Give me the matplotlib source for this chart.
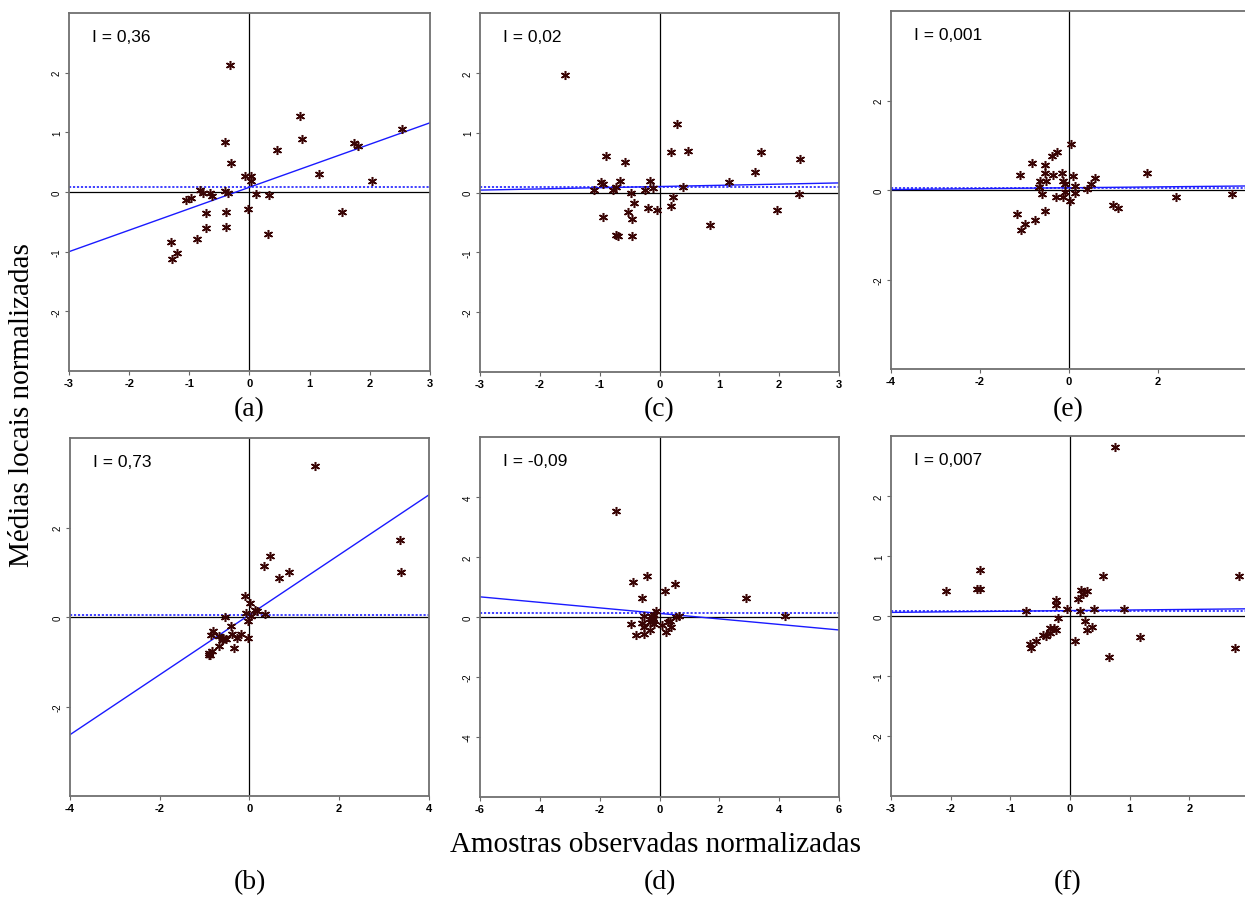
import matplotlib
matplotlib.use('Agg')
import matplotlib.pyplot as plt
import numpy as np

W, H = 1245, 904

# panel (a)
xa = [-0.32, 0.84, 0.88, 2.53, 1.73, 1.80, -0.40, 0.46, -0.31, 1.16, -0.08, 0.03, 0.03, 2.03,
      -0.82, -0.77, -0.65, -0.62, -0.40, -0.36, 0.11, 0.33, -1.06, -0.97, -0.72, -0.39, -0.03,
      1.53, -0.73, -0.39, -0.87, 0.31, -1.31, -1.20, -1.28]
ya = [2.13, 1.27, 0.88, 1.06, 0.82, 0.77, 0.84, 0.71, 0.49, 0.31, 0.26, 0.27, 0.18, 0.19,
      0.04, -0.01, -0.02, -0.06, 0.02, -0.01, -0.04, -0.05, -0.13, -0.10, -0.36, -0.33, -0.29,
      -0.34, -0.61, -0.58, -0.79, -0.71, -0.83, -1.03, -1.12]

# panel (b)
xb = [1.46, 3.35, 3.38, 0.45, 0.32, 0.87, 0.65, -0.10, 0.02, 0.13, 0.16, 0.34, -0.07, 0.03,
      -0.54, -0.04, -0.41, -0.82, -0.85, -0.39, -0.19, -0.04, -0.28, -0.59, -0.53, -0.62,
      -0.69, -0.34, -0.83, -0.90, -0.91, -0.88, -0.68, -0.60]
yb = [3.38, 1.72, 1.01, 1.37, 1.13, 1.01, 0.87, 0.46, 0.32, 0.15, 0.13, 0.07, 0.09, 0.02,
      0.00, -0.09, -0.21, -0.31, -0.40, -0.38, -0.38, -0.46, -0.47, -0.47, -0.50, -0.51,
      -0.65, -0.69, -0.75, -0.80, -0.86, -0.84, -0.43, -0.49]

# panel (c)
xc = [-1.58, 0.30, 0.19, 0.48, -0.89, -0.57, 1.69, 2.34, 1.59, 1.16, -0.97, -0.94, -0.66,
      -0.73, -0.77, -1.10, -0.16, -0.11, -0.25, 0.40, -0.47, 0.23, -0.42, 2.33, 0.19, -0.20,
      -0.04, -0.53, -0.46, 1.96, -0.94, 0.84, -0.73, -0.69, -0.46]
yc = [1.97, 1.15, 0.68, 0.70, 0.61, 0.51, 0.67, 0.56, 0.35, 0.17, 0.17, 0.14, 0.19, 0.10,
      0.04, 0.04, 0.19, 0.08, 0.04, 0.10, 0.00, -0.08, -0.18, -0.02, -0.22, -0.26, -0.29,
      -0.32, -0.44, -0.30, -0.41, -0.54, -0.71, -0.73, -0.72]

# panel (d)
xd = [-1.46, -0.42, -0.88, 0.53, 0.17, -0.57, 2.88, 4.20, -0.13, -0.52, -0.28, -0.22, -0.31,
      -0.17, -0.96, -0.57, -0.53, 0.30, 0.09, 0.39, 0.22, -0.31, -0.53, -0.78, 0.55, 0.65,
      -0.22, -0.26, -0.20, 0.36]
yd = [3.54, 1.38, 1.16, 1.10, 0.86, 0.65, 0.62, 0.03, 0.19, 0.03, 0.03, -0.08, -0.17, -0.22,
      -0.22, -0.19, -0.32, -0.17, -0.27, -0.33, -0.50, -0.43, -0.55, -0.60, 0.00, 0.03,
      -0.02, -0.13, 0.06, -0.13]

# panel (e)
xe = [0.05, -0.26, -0.38, -0.83, -0.53, -1.11, -0.55, -0.35, -0.16, 0.08, 1.75, -0.66, -0.51,
      -0.13, -0.09, 0.58, 0.49, 0.14, -0.67, 0.40, -0.60, -0.09, 0.14, -0.29, -0.13, 0.03,
      2.40, 3.66, 0.98, 1.09, -0.54, -1.17, -0.77, -1.00, -1.08]
ye = [1.02, 0.84, 0.75, 0.60, 0.56, 0.33, 0.37, 0.33, 0.37, 0.32, 0.37, 0.21, 0.21, 0.21,
      0.13, 0.27, 0.13, 0.08, 0.06, 0.02, -0.10, -0.05, -0.07, -0.16, -0.16, -0.25, -0.16,
      -0.09, -0.33, -0.41, -0.46, -0.53, -0.66, -0.76, -0.89]

# panel (f)
xf = [0.76, -1.51, 2.83, 0.55, -2.07, -1.56, -1.51, 0.18, 0.29, 0.22, 0.13, -0.23, -0.24,
      -0.05, 0.41, 0.90, -0.74, 0.17, -0.20, 0.25, 0.37, 0.28, -0.27, -0.24, -0.34, -0.33,
      -0.46, -0.41, -0.57, 0.09, 1.18, -0.67, -0.65, 2.77, 0.66]
yf = [2.82, 0.77, 0.67, 0.66, 0.41, 0.45, 0.45, 0.43, 0.42, 0.36, 0.28, 0.26, 0.18, 0.12,
      0.12, 0.12, 0.09, 0.08, -0.03, -0.08, -0.18, -0.23, -0.20, -0.23, -0.20, -0.29, -0.31,
      -0.34, -0.42, -0.41, -0.35, -0.47, -0.54, -0.54, -0.69]

moran = ['I = 0,36', 'I = 0,73', 'I = 0,02', 'I = -0,09', 'I = 0,001', 'I = 0,007']
letters = ['(a)', '(b)', '(c)', '(d)', '(e)', '(f)']
slopes = [0.36, 0.67, 0.02, -0.092, 0.01, 0.01]
intercepts = [0.08, 0.05, 0.10, 0.12, 0.05, 0.09]
mean_lines = [0.08, 0.04, 0.085, 0.13, 0.04, 0.09]
limits = [3, 4, 3, 6, 4, 3]
xticks_list = [range(-3, 4), range(-4, 5, 2), range(-3, 4), range(-6, 7, 2), range(-4, 3, 2), range(-3, 3)]
yticks_list = [range(-2, 3), range(-2, 3, 2), range(-2, 3), range(-4, 5, 2), range(-2, 3, 2), range(-2, 3)]
xs = [xa, xb, xc, xd, xe, xf]
ys = [ya, yb, yc, yd, ye, yf]

# pixel boxes: left, right, top, bottom
boxes = [(69, 430, 14, 372), (70, 429, 439, 797),
         (480, 839, 14, 373), (480, 839, 438, 798),
         (891, 1247, 12, 370), (891, 1249, 437, 797)]

fig = plt.figure(figsize=(W / 100, H / 100), dpi=100)

for i in range(6):
    l, r, t, b = boxes[i]
    ax = fig.add_axes([l / W, (H - b) / H, (r - l) / W, (b - t) / H])
    lim = limits[i]
    ax.set_xlim(-lim, lim)
    ax.set_ylim(-lim, lim)
    ax.axhline(0, color='black', lw=0.9, zorder=1)
    ax.axvline(0, color='black', lw=0.9, zorder=1)
    ax.axhline(mean_lines[i], color='#3030ff', lw=1.3, ls=(0, (1.2, 1.0)), zorder=2)
    ax.axline((0, intercepts[i]), slope=slopes[i], color='#1a1aff', lw=1.0, zorder=2)
    ax.plot(xs[i], ys[i], ls='none', marker=(6, 2, 0), ms=6.5, mew=1.1,
            color='#3a0505', zorder=3)
    ax.set_xticks(list(xticks_list[i]))
    ax.set_yticks(list(yticks_list[i]))
    ax.set_xticklabels([str(v) for v in xticks_list[i]], fontsize=8, fontweight='bold',
                       family='Liberation Sans')
    ax.set_yticklabels([str(v) for v in yticks_list[i]], fontsize=7, rotation=90,
                       va='center', family='Liberation Sans')
    ax.tick_params(length=3, width=0.8, color='#666666', pad=2)
    for s in ax.spines.values():
        s.set_color('#707070')
        s.set_linewidth(1.3)
    ax.text(0.065, 0.935, moran[i], transform=ax.transAxes, fontsize=12.5,
            family='Liberation Sans', va='center', ha='left')
    cx = (l + r) / 2 if i < 4 else (l + 1245) / 2
    cy = 410 if i % 2 == 0 else 883
    fig.text(cx / W, 1 - cy / H, letters[i], fontsize=20, family='Liberation Serif',
             ha='center', va='center')

fig.text(655 / W, 1 - 845 / H, 'Amostras observadas normalizadas', fontsize=21,
         family='Liberation Serif', ha='center', va='center')
fig.text(22 / W, 1 - 405 / H, 'Médias locais normalizadas', fontsize=21,
         family='Liberation Serif', ha='center', va='center', rotation=90)

fig.savefig('out.png', dpi=100)
